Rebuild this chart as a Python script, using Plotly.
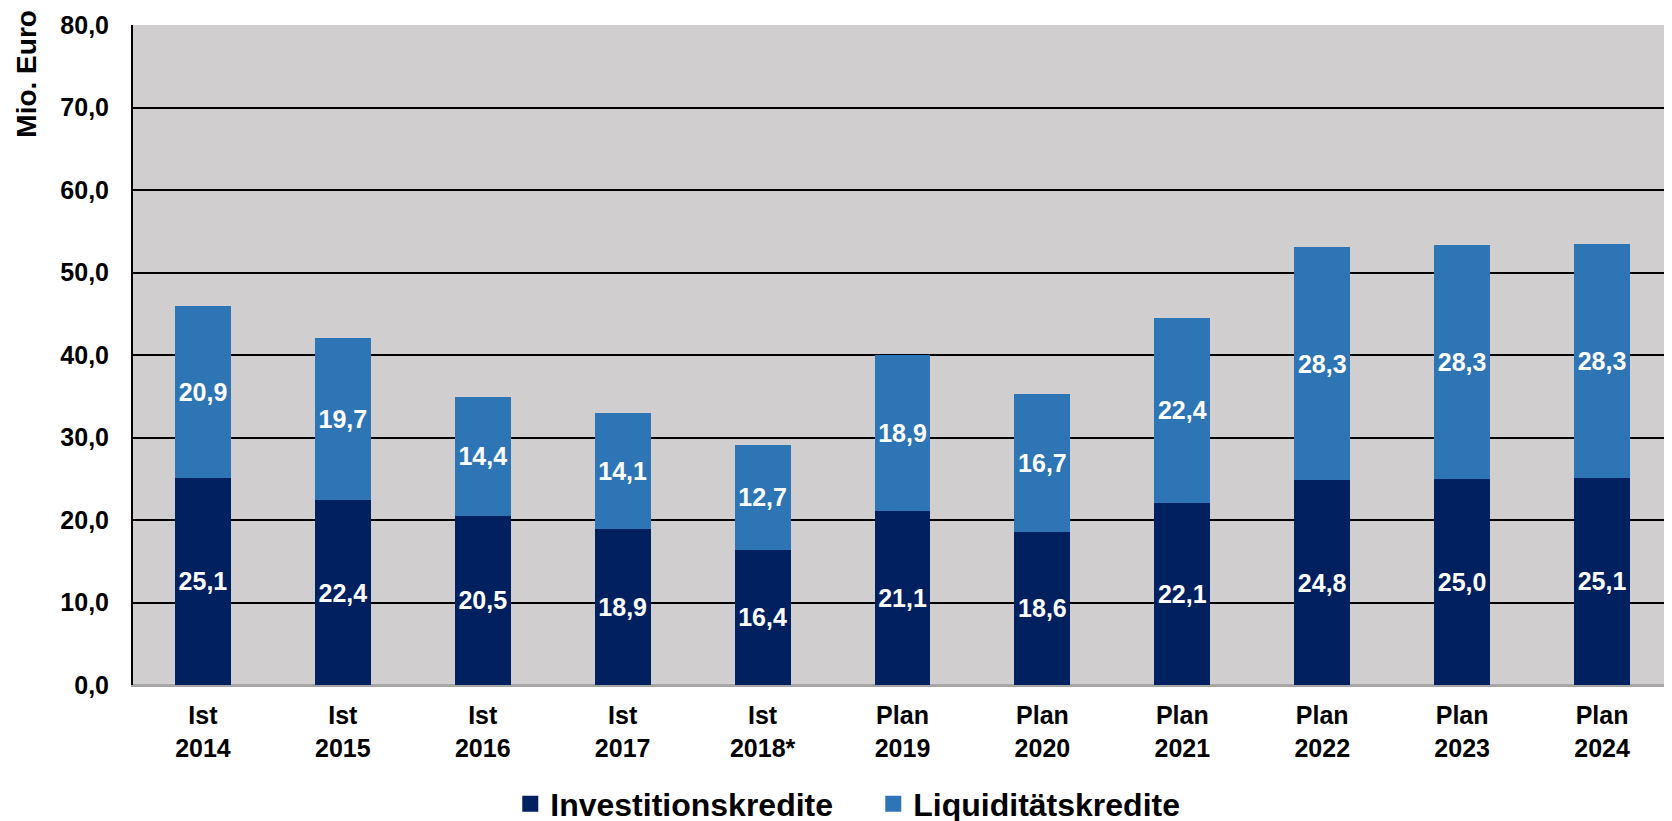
import plotly.graph_objects as go

categories = ["Ist<br>2014", "Ist<br>2015", "Ist<br>2016", "Ist<br>2017", "Ist<br>2018*",
              "Plan<br>2019", "Plan<br>2020", "Plan<br>2021", "Plan<br>2022", "Plan<br>2023", "Plan<br>2024"]
investitionskredite = [25.1, 22.4, 20.5, 18.9, 16.4, 21.1, 18.6, 22.1, 24.8, 25.0, 25.1]
liquiditaetskredite = [20.9, 19.7, 14.4, 14.1, 12.7, 18.9, 16.7, 22.4, 28.3, 28.3, 28.3]
y_ticks = [0, 10, 20, 30, 40, 50, 60, 70, 80]
y_tick_labels = ["0,0", "10,0", "20,0", "30,0", "40,0", "50,0", "60,0", "70,0", "80,0"]

DARK = "#002060"
LIGHT = "#2E75B6"
FONT = "Liberation Sans"

def fmt(v):
    return f"{v:.1f}".replace(".", ",")

fig = go.Figure()
for name, vals, col in [("Investitionskredite", investitionskredite, DARK),
                        ("Liquiditätskredite", liquiditaetskredite, LIGHT)]:
    fig.add_trace(go.Bar(
        x=categories, y=vals, name=name,
        marker=dict(color=col, line=dict(width=0)),
        text=[fmt(v) for v in vals],
        textposition="inside", insidetextanchor="middle",
        textfont=dict(color="white", size=25, family=FONT, weight="bold"),
        showlegend=False, width=0.4,
    ))
    fig.add_trace(go.Scatter(
        x=[None], y=[None], mode="markers", name=name,
        marker=dict(symbol="square", size=20, color=col),
    ))

fig.update_layout(
    width=1664, height=813,
    barmode="stack",
    plot_bgcolor="#D0CECE", paper_bgcolor="white",
    margin=dict(l=125, r=0, t=17, b=136, autoexpand=False),
    font=dict(family=FONT, size=25, color="black", weight="bold"),
    showlegend=True,
    legend=dict(orientation="h", xref="container", yref="container",
                x=0.52, xanchor="center", y=0.0209, yanchor="middle",
                font=dict(size=32, family=FONT, weight="bold"),
                entrywidth=318, entrywidthmode="pixels",
                itemsizing="trace", traceorder="normal"),
    uniformtext=dict(minsize=25, mode="show"),
)
fig.update_xaxes(showline=True, linecolor="#A6A6A6", linewidth=2, showgrid=False,
                 ticklabelstandoff=7,
                 tickfont=dict(size=25, family=FONT, weight="bold"), ticks="")
fig.update_yaxes(range=[0, 80], tickvals=y_ticks, ticktext=y_tick_labels,
                 showgrid=True, gridcolor="black", gridwidth=2,
                 zeroline=True, zerolinecolor="#A6A6A6", zerolinewidth=2,
                 showline=True, linecolor="black", linewidth=2,
                 ticklabelstandoff=17,
                 tickfont=dict(size=25, family=FONT, weight="bold"))
fig.add_annotation(text="Mio. Euro", xref="paper", yref="paper", x=-0.069, y=1.026,
                   xanchor="center", yanchor="top", textangle=-90, showarrow=False,
                   font=dict(size=28, family=FONT, weight="bold"))

fig.write_html("out.html")
